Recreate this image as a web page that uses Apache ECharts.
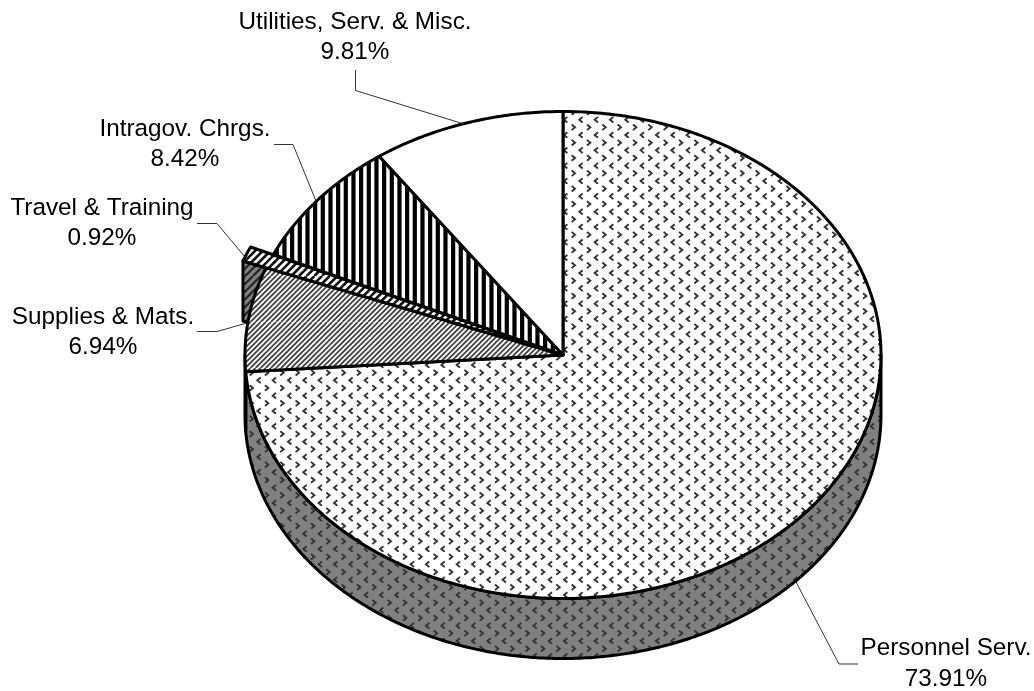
<!DOCTYPE html>
<html>
<head>
<meta charset="utf-8">
<style>html,body{margin:0;padding:0;background:#fff}#chart{width:1034px;height:691px}</style>
<script src="https://cdn.jsdelivr.net/npm/echarts@6/dist/echarts.min.js"></script>
</head>
<body>
<div id="chart"></div>
<script>
// Data, clockwise from 12 o'clock
const categories = ['Personnel Serv.', 'Supplies & Mats.', 'Travel & Training', 'Intragov. Chrgs.', 'Utilities, Serv. & Misc.'];
const shares = [73.91, 6.94, 0.92, 8.42, 9.81];

// Layout
const PIE = { cx: 563, cy: 355, rx: 318, ry: 243.5, depth: 60 };
const EXPLODED = { 'Travel & Training': { scale: 1.075, dx: -1, dy: 0 } };
const LABEL_LAYOUT = {
  'Personnel Serv.': { x: 946, y: 648.5, line: [[796, 582], [839, 664], [858, 664]] },
  'Supplies & Mats.': { x: 103, y: 317, line: [[197, 331.5], [217, 331.5], [247, 323]] },
  'Travel & Training': { x: 102, y: 208, line: [[197, 223.5], [217, 223.5], [245, 257]] },
  'Intragov. Chrgs.': { x: 185, y: 129, line: [[274, 144.5], [293, 144.5], [316, 201]] },
  'Utilities, Serv. & Misc.': { x: 355, y: 22, line: [[355.5, 70], [355.5, 90.5], [464, 124]] }
};

// Fill patterns
const T = 46, P = T / 6;
function tile(draw, bg) {
  const c = document.createElement('canvas');
  c.width = c.height = T;
  const g = c.getContext('2d');
  g.fillStyle = bg || '#fff';
  g.fillRect(0, 0, T, T);
  draw(g);
  return { image: c, repeat: 'repeat' };
}
function chevrons(g) {
  g.strokeStyle = '#333'; g.lineWidth = 1.9;
  const S = T / 3;
  for (let i = -1; i <= 3; i++) for (let j = -1; j <= 3; j++) {
    const x = 6 + i * S, y = 20 + j * S;
    g.beginPath(); g.moveTo(x - 1.7, y - 2.8); g.lineTo(x + 1.7, y); g.lineTo(x - 1.7, y + 2.8); g.stroke();
    const u = x + S / 2, v = y + S / 2;
    g.beginPath(); g.moveTo(u + 1.7, v - 2.8); g.lineTo(u - 1.7, v); g.lineTo(u + 1.7, v + 2.8); g.stroke();
  }
}
function diagonals(color, w, period) {
  return function (g) {
    g.strokeStyle = color; g.lineWidth = w;
    const n = Math.round(T / period), p = T / n;
    for (let k = -n - 1; k <= 2 * n + 1; k++) {
      g.beginPath(); g.moveTo(k * p, T); g.lineTo(k * p + T, 0); g.stroke();
    }
  };
}
function verticals(g) {
  g.fillStyle = '#000';
  for (let k = -1; k <= 6; k++) g.fillRect(k * P + 0.8 - 2.1, 0, 4.2, T);
}
const topFill = {
  'Personnel Serv.': tile(chevrons),
  'Supplies & Mats.': tile(diagonals('#444', 1.8, 5.11)),
  'Travel & Training': tile(diagonals('#111', 2.6, 7.67)),
  'Intragov. Chrgs.': tile(verticals),
  'Utilities, Serv. & Misc.': '#fff'
};
const wallFill = {
  'Personnel Serv.': tile(chevrons, '#808080'),
  'Supplies & Mats.': tile(diagonals('#222', 1.8, 5.11), '#808080'),
  'Travel & Training': tile(diagonals('#222', 2.1, 7.67), '#808080')
};

// Slice geometry from shares (angles clockwise from top)
const total = shares.reduce((a, b) => a + b, 0);
const spans = [];
shares.reduce((acc, v) => { spans.push([acc, acc + v / total * 2 * Math.PI]); return acc + v / total * 2 * Math.PI; }, 0);
function pt(a, k, ox, oy) {
  return [PIE.cx + (ox || 0) + k * PIE.rx * Math.sin(a), PIE.cy + (oy || 0) - k * PIE.ry * Math.cos(a)];
}
function arc(a0, a1, k, ox, oy, down) {
  const n = Math.max(2, Math.ceil((a1 - a0) * 90)), out = [];
  for (let i = 0; i <= n; i++) {
    const p = pt(a0 + (a1 - a0) * i / n, k, ox, oy);
    out.push([p[0], p[1] + (down || 0)]);
  }
  return out;
}
const edge = { stroke: '#000', lineWidth: 3, lineJoin: 'round' };

function renderWall(params, api) {
  const i = params.dataIndex, name = categories[i], s = spans[i];
  const ex = EXPLODED[name];
  if (ex) {
    const o = pt(s[0], ex.scale, ex.dx, ex.dy), c = [PIE.cx, PIE.cy], d = PIE.depth;
    return { type: 'polygon', shape: { points: [o, [o[0], o[1] + d], [c[0], c[1] + d], c] }, style: Object.assign({ fill: wallFill[name] }, edge) };
  }
  const a0 = Math.max(s[0], Math.PI / 2), a1 = Math.min(s[1], 3 * Math.PI / 2);
  if (a1 <= a0) return null;
  const top = arc(a0, a1, 1), bottom = arc(a0, a1, 1, 0, 0, PIE.depth).reverse();
  return { type: 'polygon', shape: { points: top.concat(bottom) }, style: Object.assign({ fill: wallFill[name] || '#808080' }, edge) };
}
function renderTop(params, api) {
  const i = params.dataIndex, name = categories[i], s = spans[i];
  const ex = EXPLODED[name];
  const rim = ex ? arc(s[0], s[1], ex.scale, ex.dx, ex.dy) : arc(s[0], s[1], 1);
  return { type: 'polygon', shape: { points: [[PIE.cx, PIE.cy]].concat(rim) }, style: Object.assign({ fill: topFill[name] }, edge) };
}
function renderLabel(params, api) {
  const i = params.dataIndex, name = categories[i], l = LABEL_LAYOUT[name];
  const font = '24.3px "Liberation Sans", Arial, sans-serif';
  return {
    type: 'group',
    children: [
      { type: 'polyline', shape: { points: l.line }, style: { fill: 'none', stroke: '#333', lineWidth: 1 } },
      { type: 'text', style: { text: name, x: l.x, y: l.y, font: font, fill: '#000', textAlign: 'center', textVerticalAlign: 'middle' } },
      { type: 'text', style: { text: shares[i].toFixed(2) + '%', x: l.x, y: l.y + 30.7, font: font, fill: '#000', textAlign: 'center', textVerticalAlign: 'middle' } }
    ]
  };
}
const seriesData = categories.map((n, i) => ({ name: n, value: shares[i] }));
const chart = echarts.init(document.getElementById('chart'), null, { renderer: 'canvas' });
chart.setOption({
  animation: false,
  backgroundColor: '#fff',
  series: [
    { type: 'custom', coordinateSystem: 'none', silent: true, z: 1, data: seriesData, renderItem: renderWall },
    { type: 'custom', coordinateSystem: 'none', silent: true, z: 2, data: seriesData, renderItem: renderTop },
    { type: 'custom', coordinateSystem: 'none', silent: true, z: 3, data: seriesData, renderItem: renderLabel }
  ]
});
</script>
</body>
</html>
